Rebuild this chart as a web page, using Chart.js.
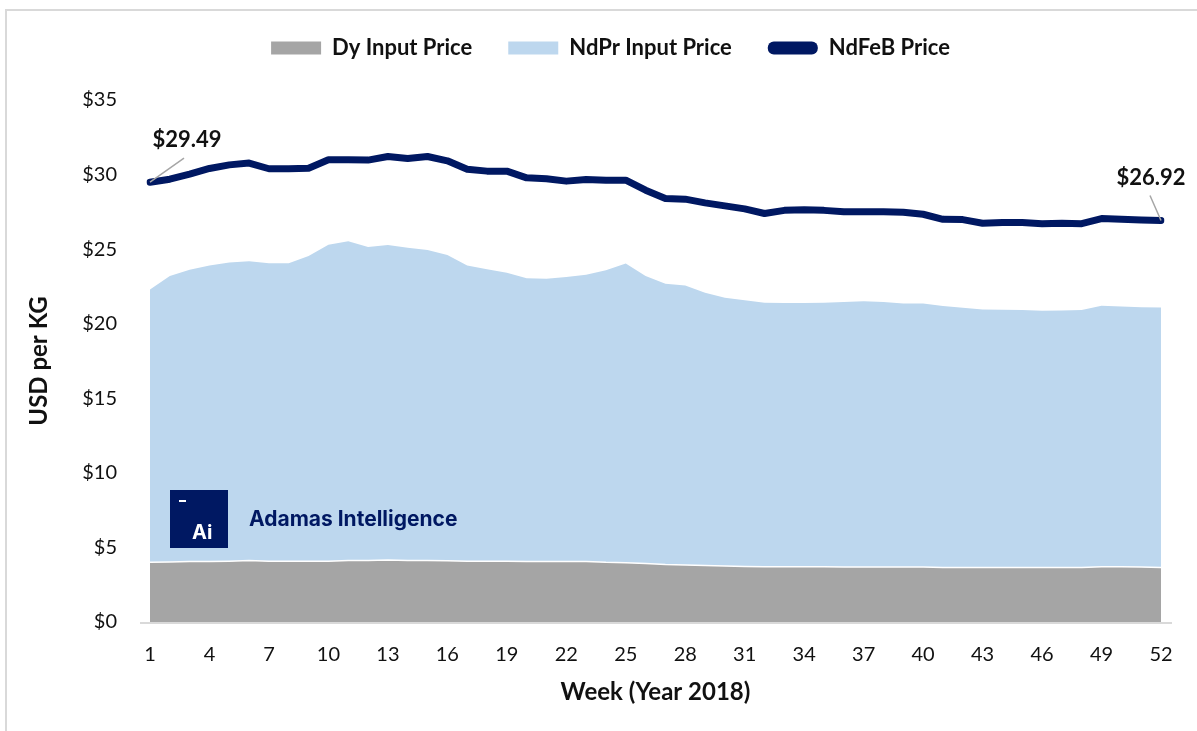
<!DOCTYPE html>
<html>
<head>
<meta charset="utf-8">
<title>NdFeB Price 2018</title>
<script src="https://cdn.jsdelivr.net/npm/chart.js@4.4.1/dist/chart.umd.min.js"></script>
<style>
    html, body { margin: 0; padding: 0; background: #fff; }
    body { width: 1197px; height: 731px; position: relative; overflow: hidden; }
    .frame { position: absolute; left: 5px; top: 9px; width: 1210px; height: 740px; border: 2px solid #d9d9d9; box-sizing: border-box; }
    #wrap { position: absolute; left: 0; top: 0; width: 1197px; height: 731px; }
</style>
</head>
<body>
<div class="frame"></div>
<div id="wrap"><canvas id="priceChart"></canvas></div>
<script>
// weekly data, 2018
const weeks = [1, 2, 3, 4, 5, 6, 7, 8, 9, 10, 11, 12, 13, 14, 15, 16, 17, 18, 19, 20, 21, 22, 23, 24, 25, 26,
    27, 28, 29, 30, 31, 32, 33, 34, 35, 36, 37, 38, 39, 40, 41, 42, 43, 44, 45, 46, 47, 48, 49, 50, 51, 52];
const tickWeeks = [1, 4, 7, 10, 13, 16, 19, 22, 25, 28, 31, 34, 37, 40, 43, 46, 49, 52];

const dyInput = [4.00, 4.02, 4.05, 4.05, 4.08, 4.12, 4.08, 4.08, 4.08, 4.08, 4.12, 4.12, 4.15, 4.12, 4.12, 4.10,
    4.08, 4.08, 4.08, 4.05, 4.05, 4.05, 4.05, 4.00, 3.98, 3.92, 3.85, 3.82, 3.78, 3.75, 3.72, 3.70, 3.70, 3.70,
    3.70, 3.68, 3.68, 3.68, 3.68, 3.68, 3.65, 3.65, 3.65, 3.65, 3.65, 3.65, 3.65, 3.65, 3.70, 3.70, 3.68, 3.65];

const ndprInput = [18.30, 19.18, 19.57, 19.86, 20.03, 20.06, 19.97, 19.97, 20.46, 21.22, 21.41, 21.03, 21.13,
    20.98, 20.82, 20.51, 19.83, 19.57, 19.34, 18.99, 18.97, 19.08, 19.24, 19.58, 20.05, 19.28, 18.83, 18.75,
    18.30, 17.99, 17.86, 17.71, 17.69, 17.69, 17.70, 17.77, 17.82, 17.77, 17.68, 17.68, 17.53, 17.42, 17.31,
    17.29, 17.27, 17.22, 17.24, 17.27, 17.50, 17.46, 17.43, 17.44];

const ndfebPrice = [29.49, 29.69, 30.03, 30.41, 30.65, 30.77, 30.39, 30.39, 30.43, 30.99, 31.00, 30.97, 31.21,
    31.08, 31.21, 30.92, 30.36, 30.23, 30.23, 29.78, 29.72, 29.56, 29.67, 29.62, 29.62, 28.95, 28.40, 28.35,
    28.10, 27.90, 27.70, 27.39, 27.60, 27.64, 27.60, 27.50, 27.50, 27.50, 27.48, 27.34, 27.00, 26.98, 26.74,
    26.78, 26.78, 26.71, 26.74, 26.71, 27.05, 27.00, 26.96, 26.92];

const colors = {
    dy: '#a5a5a5',
    ndpr: '#bdd7ee',
    navy: '#001862',
    axis: '#d9d9d9',
    leader: '#a6a6a6',
    text: '#111111'
};

const money = v => '$' + v.toFixed(2);

// leaves some room under the legend items and nudges them right
const legendGap = {
    id: 'legendGap',
    beforeInit(chart) {
        const fit = chart.legend.fit;
        chart.legend.fit = function () {
            fit.bind(chart.legend)();
            this.height += 31;
        };
    },
    afterLayout(chart) {
        chart.legend.left += 30;
        chart.legend.right += 30;
    }
};

// x axis line runs a little past the plot on both sides
const axisLine = {
    id: 'axisLine',
    beforeDatasetsDraw(chart) {
        const { ctx, chartArea } = chart;
        ctx.save();
        ctx.strokeStyle = colors.axis;
        ctx.lineWidth = 2;
        ctx.beginPath();
        ctx.moveTo(chartArea.left - 10, chartArea.bottom + 1);
        ctx.lineTo(chartArea.right + 11, chartArea.bottom + 1);
        ctx.stroke();
        ctx.restore();
    }
};

// first / last NdFeB values with leader lines
const endLabels = {
    id: 'endLabels',
    afterDatasetsDraw(chart) {
        const { ctx } = chart;
        const pts = chart.getDatasetMeta(2).data;
        const first = pts[0];
        const last = pts[pts.length - 1];
        ctx.save();
        ctx.strokeStyle = colors.leader;
        ctx.lineWidth = 1.5;
        ctx.beginPath();
        ctx.moveTo(first.x, first.y);
        ctx.lineTo(first.x + 34, first.y - 24);
        ctx.moveTo(last.x, last.y);
        ctx.lineTo(last.x - 11, last.y - 25);
        ctx.stroke();
        ctx.fillStyle = colors.text;
        ctx.font = 'bold 22px Lato';
        ctx.textAlign = 'center';
        ctx.textBaseline = 'middle';
        ctx.fillText(money(ndfebPrice[0]), first.x + 37, first.y - 42);
        ctx.fillText(money(ndfebPrice[ndfebPrice.length - 1]), last.x - 10, last.y - 43);
        ctx.restore();
    }
};

// Adamas Intelligence mark in the lower left of the plot
const logo = {
    id: 'logo',
    afterDatasetsDraw(chart) {
        const { ctx, chartArea } = chart;
        const x = chartArea.left + 20;
        const y = chartArea.top + 390;
        ctx.save();
        ctx.fillStyle = colors.navy;
        ctx.fillRect(x, y, 58, 58);
        ctx.fillStyle = '#ffffff';
        ctx.fillRect(x + 9, y + 10, 7, 2);
        ctx.font = 'bold 20px Inter';
        ctx.textBaseline = 'alphabetic';
        ctx.fillText('Ai', x + 22, y + 49);
        ctx.fillStyle = colors.navy;
        ctx.font = 'bold 21px Inter';
        ctx.fillText('Adamas Intelligence', x + 79, y + 36);
        ctx.restore();
    }
};

Chart.defaults.font.family = 'Lato, "Open Sans", sans-serif';
Chart.defaults.color = colors.text;

new Chart(document.getElementById('priceChart'), {
    type: 'line',
    data: {
        labels: weeks,
        datasets: [{
            label: 'Dy Input Price',
            data: dyInput,
            backgroundColor: colors.dy,
            borderColor: '#ffffff',
            borderWidth: 1.5,
            fill: 'origin',
            pointRadius: 0,
            tension: 0,
            stack: 'inputs'
        }, {
            label: 'NdPr Input Price',
            data: ndprInput,
            backgroundColor: colors.ndpr,
            borderColor: colors.ndpr,
            borderWidth: 0,
            fill: '-1',
            pointRadius: 0,
            tension: 0,
            stack: 'inputs'
        }, {
            label: 'NdFeB Price',
            data: ndfebPrice,
            backgroundColor: colors.navy,
            borderColor: colors.navy,
            borderWidth: 7,
            borderCapStyle: 'round',
            borderJoinStyle: 'round',
            fill: false,
            pointRadius: 0,
            tension: 0,
            stack: 'price'
        }]
    },
    options: {
        responsive: true,
        maintainAspectRatio: false,
        animation: false,
        layout: {
            padding: { top: 1, right: 36, bottom: 0, left: 0 }
        },
        plugins: {
            legend: {
                position: 'top',
                labels: {
                    boxWidth: 50,
                    boxHeight: 13,
                    padding: 36,
                    font: { size: 22, weight: 'bold' },
                    color: colors.text,
                    useBorderRadius: true,
                    generateLabels(chart) {
                        const items = Chart.defaults.plugins.legend.labels.generateLabels(chart);
                        items.forEach((item, i) => {
                            item.lineWidth = 0;
                            item.borderRadius = i === 2 ? 6 : 0;
                        });
                        return items;
                    }
                }
            },
            tooltip: { enabled: false }
        },
        scales: {
            x: {
                offset: false,
                grid: { display: false },
                border: { display: false },
                ticks: {
                    autoSkip: false,
                    maxRotation: 0,
                    padding: 13,
                    font: { size: 20 },
                    color: colors.text,
                    callback(value) {
                        const w = weeks[value];
                        return tickWeeks.includes(w) ? String(w) : '';
                    }
                },
                title: {
                    display: true,
                    text: 'Week (Year 2018)',
                    font: { size: 24, weight: 'bold' },
                    color: colors.text,
                    padding: { top: 0, bottom: 24 }
                },
                afterFit(scale) { scale.height = 109; }
            },
            y: {
                stacked: true,
                min: 0,
                max: 35,
                grid: { display: false },
                border: { display: false },
                ticks: {
                    stepSize: 5,
                    padding: 25,
                    font: { size: 20 },
                    color: colors.text,
                    callback: v => '$' + v
                },
                title: {
                    display: true,
                    text: 'USD per KG',
                    font: { size: 24, weight: 'bold' },
                    color: colors.text,
                    padding: { top: 25, bottom: 0 }
                },
                afterFit(scale) { scale.width = 150; }
            }
        }
    },
    plugins: [legendGap, axisLine, endLabels, logo]
});
</script>
</body>
</html>
